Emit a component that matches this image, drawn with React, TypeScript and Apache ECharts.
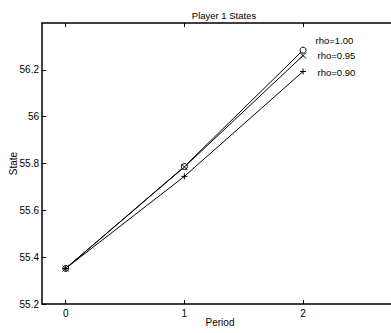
import React, { useEffect, useRef } from "react";
import * as echarts from "echarts";

const periods = [0, 1, 2];
const rho100 = [55.352, 55.787, 56.284];
const rho095 = [55.352, 55.785, 56.261];
const rho090 = [55.352, 55.745, 56.193];
const seriesNames = ["rho=1.00", "rho=0.95", "rho=0.90"];
const yTicks = [55.2, 55.4, 55.6, 55.8, 56, 56.2];
const xTicks = [0, 1, 2];

const FONT = "Liberation Sans, Arial, Helvetica, sans-serif";

const circleSym = "circle";
const crossSym = "path://M0,0L10,10M10,0L0,10";
const plusSym = "path://M5,0L5,10M0,5L10,5";

export default function App() {
  const ref = useRef<HTMLDivElement>(null);
  useEffect(() => {
    document.body.style.margin = "0";
    const chart = echarts.init(ref.current!, null, { renderer: "svg" });
    const mk = (name: string, vals: number[], symbol: string, size: number, off: number[]) => ({
      type: "line",
      name,
      data: vals.map((v, i) => {
        const d: any = { value: [periods[i], v] };
        if (i === vals.length - 1) {
          d.label = {
            show: true,
            position: "right",
            distance: 5,
            offset: off,
            formatter: name,
            fontFamily: FONT,
            fontSize: 9.5,
            color: "#000",
          };
        }
        return d;
      }),
      symbol,
      symbolSize: size,
      showSymbol: true,
      lineStyle: { color: "#000", width: 1 },
      itemStyle: { color: symbol === "circle" ? "#fff" : "none", borderColor: "#000", borderWidth: 1 },
      emphasis: { disabled: true },
      z: 3,
    });
    const axisCommon = {
      axisLine: { show: true, onZero: false, lineStyle: { color: "#000", width: 1.5 } },
      axisTick: { show: true, inside: true, length: 4, lineStyle: { color: "#000", width: 1 } },
      splitLine: { show: false },
    };
    chart.setOption({
      animation: false,
      backgroundColor: "#fff",
      title: {
        text: "Player 1 States",
        left: 219,
        textAlign: "center",
        top: 5,
        textStyle: { fontFamily: FONT, fontSize: 9.5, fontWeight: "normal", color: "#000" },
      },
      grid: { left: 42, top: 23, right: -7, bottom: 29, containLabel: false, outerBoundsMode: "none" },
      xAxis: [
        {
          type: "value",
          min: -0.2,
          max: 2.8,
          position: "bottom",
          name: "Period",
          nameLocation: "middle",
          nameGap: 13,
          nameMoveOverlap: false,
          nameTextStyle: { fontFamily: FONT, fontSize: 10, color: "#000" },
          ...axisCommon,
          axisTick: { ...axisCommon.axisTick, customValues: xTicks },
          axisLabel: { customValues: xTicks, fontFamily: FONT, fontSize: 10, color: "#000", margin: 4 },
        },
        {
          type: "value",
          min: -0.2,
          max: 2.8,
          position: "top",
          ...axisCommon,
          axisTick: { ...axisCommon.axisTick, customValues: xTicks },
          axisLabel: { show: false },
        },
      ],
      yAxis: [
        {
          type: "value",
          min: 55.2,
          max: 56.4,
          position: "left",
          name: "State",
          nameLocation: "middle",
          nameGap: 24,
          nameMoveOverlap: false,
          nameTextStyle: { fontFamily: FONT, fontSize: 10, color: "#000" },
          ...axisCommon,
          axisTick: { ...axisCommon.axisTick, customValues: yTicks },
          axisLabel: {
            customValues: yTicks,
            fontFamily: FONT,
            fontSize: 10,
            color: "#000",
            margin: 3,
            formatter: (v: number) => String(+v.toFixed(1)),
          },
        },
        {
          type: "value",
          min: 55.2,
          max: 56.4,
          position: "right",
          ...axisCommon,
          axisTick: { ...axisCommon.axisTick, customValues: yTicks },
          axisLabel: { show: false },
        },
      ],
      series: [
        mk(seriesNames[0], rho100, circleSym, 6, [4, -10]),
        mk(seriesNames[1], rho095, crossSym, 6, [4, 0]),
        mk(seriesNames[2], rho090, plusSym, 6, [4, 1]),
      ],
    });
    return () => chart.dispose();
  }, []);
  return <div ref={ref} style={{ width: 391, height: 333 }} />;
}
